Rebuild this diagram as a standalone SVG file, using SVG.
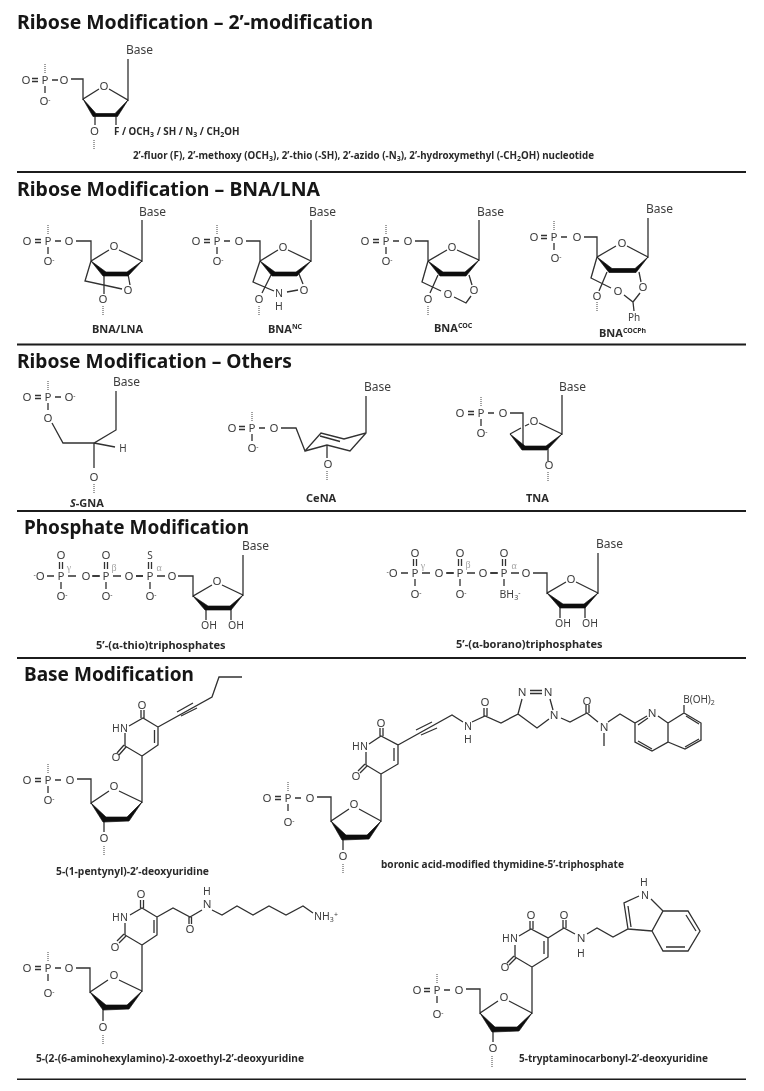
<svg xmlns="http://www.w3.org/2000/svg" xmlns:xlink="http://www.w3.org/1999/xlink" width="764" height="1091" viewBox="0 0 764 1091">
<style>
text{font-family:"Noto Sans","Open Sans","Liberation Sans",sans-serif}
.h{font-size:20px;font-weight:700;fill:#141414}
.c{font-size:10px;font-weight:700;fill:#2a2a2a}
.c9{font-size:9.800px}
.c11{font-size:11px}
.t{font-size:11.500px;fill:#3d3d3d;text-anchor:middle}
.a10{font-size:10px}
.a105{font-size:10.500px}
.b0{font-size:12px;fill:#3d3d3d}
.g{font-size:10px;fill:#a5a5a5;text-anchor:middle;font-family:"Liberation Serif",serif}
.s{font-size:7px}
.b{fill:none;stroke:#303030;stroke-width:1.3}
.d{fill:none;stroke:#555;stroke-width:1.1;stroke-dasharray:1 1}
.w{fill:#111;stroke:#111;stroke-width:.7}
.r{stroke:#1c1c1c;stroke-width:2.2}
</style>
<defs>
<filter id="soft" x="0" y="0" width="100%" height="100%"><feGaussianBlur stdDeviation="0.3"/></filter>
<g id="phos"><path class="b" d="M-13 -1.500H-7M-13 1.500H-7M7 0H13M0 6V13"/><path class="d" d="M0 -16V-7"/></g>
<g id="tri"><path class="b" d="M-1.500 -14V-7M1.500 -14V-7M-14 0H-7M7 0H15M0 6V13"/></g>
</defs>
<rect width="764" height="1091" fill="#fff"/>
<g filter="url(#soft)">

<g id="rules">
<line class="r" x1="17" y1="172" x2="746" y2="172"/>
<line class="r" x1="17" y1="344.500" x2="746" y2="344.500"/>
<line class="r" x1="17" y1="511" x2="746" y2="511"/>
<line class="r" x1="17" y1="658" x2="746" y2="658"/>
<line class="r" x1="17" y1="1079.500" x2="746" y2="1079.500"/>
</g>

<g id="titles">
<text class="h" x="17" y="29" textLength="356" lengthAdjust="spacingAndGlyphs">Ribose Modification – 2’-modification</text>
<text class="h" x="17" y="196" textLength="303" lengthAdjust="spacingAndGlyphs">Ribose Modification – BNA/LNA</text>
<text class="h" x="17" y="368" textLength="275" lengthAdjust="spacingAndGlyphs">Ribose Modification – Others</text>
<text class="h" x="24" y="534" textLength="225" lengthAdjust="spacingAndGlyphs">Phosphate Modification</text>
<text class="h" x="24" y="681" textLength="170" lengthAdjust="spacingAndGlyphs">Base Modification</text>
</g>

<g id="mod2">
<use xlink:href="#phos" href="#phos" x="45" y="80"/>
<text class="t" x="26" y="84">O</text><text class="t" x="45" y="84">P</text><text class="t" x="64" y="84">O</text><text class="t" x="45" y="105">O<tspan class="s" dy="-3">-</tspan></text>
<path class="b" d="M71 79H83V99L99 89M109 89L128 100V59M95 115V125M116 115V125"/>
<polygon class="w" points="83,99 93,116.500 117.500,116.500 128,100 115,113.500 96,113.500"/>
<text class="t" x="104" y="90">O</text><text class="t" x="94.500" y="135">O</text>
<path class="d" d="M94 140V149"/>
<text class="b0" x="126" y="54">Base</text>
<text class="c c9" x="114" y="135">F / OCH<tspan class="s" dy="2">3</tspan><tspan dy="-2"> / SH / N</tspan><tspan class="s" dy="2">3</tspan><tspan dy="-2"> / CH</tspan><tspan class="s" dy="2">2</tspan><tspan dy="-2">OH</tspan></text>
<text class="c c9" x="133" y="159">2’-fluor (F), 2’-methoxy (OCH<tspan class="s" dy="2">3</tspan><tspan dy="-2">), 2’-thio (-SH), 2’-azido (-N</tspan><tspan class="s" dy="2">3</tspan><tspan dy="-2">), 2’-hydroxymethyl (-CH</tspan><tspan class="s" dy="2">2</tspan><tspan dy="-2">OH) nucleotide</tspan></text>
</g>

<g id="bna-lna">
<use xlink:href="#phos" href="#phos" x="48" y="241"/>
<text class="t" x="27" y="245">O</text><text class="t" x="48" y="245">P</text><text class="t" x="69" y="245">O</text><text class="t" x="49" y="265">O<tspan class="s" dy="-3">-</tspan></text>
<path class="b" d="M76 241H91V261L109 250M119 250L142 261V220M91 261L85 281L122 289M128 274L130 285M104 273V294"/>
<polygon class="w" points="91,261 103,276 128,276 142,261 127,272 106,272"/>
<text class="t" x="114" y="250">O</text><text class="t" x="128" y="294">O</text><text class="t" x="103" y="303">O</text>
<path class="d" d="M103 306V315"/>
<text class="b0" x="139" y="216">Base</text>
<text class="c c11" x="92" y="333">BNA/LNA</text>
</g>

<g id="bna-nc">
<use xlink:href="#phos" href="#phos" x="217" y="241"/>
<text class="t" x="196" y="245">O</text><text class="t" x="217" y="245">P</text><text class="t" x="239" y="245">O</text><text class="t" x="218" y="265">O<tspan class="s" dy="-3">-</tspan></text>
<path class="b" d="M246 241H260V261L278 250M288 250L311 261V220M260 261L253 282L274 291M287 292L298 290M299 274L303 284M271 275L262 293"/>
<polygon class="w" points="260,261 272,276 297,276 311,261 296,272 275,272"/>
<text class="t" x="283" y="251">O</text><text class="t" x="304" y="294">O</text><text class="t a105" x="279" y="297">N</text><text class="t a105" x="279" y="310">H</text><text class="t" x="259" y="303">O</text>
<path class="d" d="M259 306V315"/>
<text class="b0" x="309" y="216">Base</text>
<text class="c c11" x="268" y="333">BNA<tspan class="s" dy="-4">NC</tspan></text>
</g>

<g id="bna-coc">
<use xlink:href="#phos" href="#phos" x="386" y="241"/>
<text class="t" x="365" y="245">O</text><text class="t" x="386" y="245">P</text><text class="t" x="408" y="245">O</text><text class="t" x="387" y="265">O<tspan class="s" dy="-3">-</tspan></text>
<path class="b" d="M415 241H428V261L447 250M457 250L479 260V220M428 261L422 282L441 291M454 297L466 303L471 296M469 275L472 285M438 275L430 293"/>
<polygon class="w" points="428,261 440,276 466,276 479,260 465,272 443,272"/>
<text class="t" x="452" y="251">O</text><text class="t" x="474" y="294">O</text><text class="t" x="448" y="298">O</text><text class="t" x="428" y="303">O</text>
<path class="d" d="M428 306V315"/>
<text class="b0" x="477" y="216">Base</text>
<text class="c c11" x="434" y="332">BNA<tspan class="s" dy="-4">COC</tspan></text>
</g>

<g id="bna-cocph">
<use xlink:href="#phos" href="#phos" x="554" y="237"/>
<text class="t" x="534" y="241">O</text><text class="t" x="554" y="241">P</text><text class="t" x="577" y="241">O</text><text class="t" x="556" y="262">O<tspan class="s" dy="-3">-</tspan></text>
<path class="b" d="M584 237H597V257L616 246M627 246L648 257V218M597 257L591 278L611 288M624 295L633 302L640 293M639 272L641 282M607 272L599 291M633 302L634 311"/>
<polygon class="w" points="597,257 609,272.500 636,272.500 648,257 635,268.500 612,268.500"/>
<text class="t" x="622" y="247">O</text><text class="t" x="643" y="291">O</text><text class="t" x="618" y="295">O</text><text class="t" x="597" y="300">O</text>
<path class="d" d="M597 302V311"/>
<text class="t a10" x="634" y="321">Ph</text>
<text class="b0" x="646" y="213">Base</text>
<text class="c c11" x="599" y="337">BNA<tspan class="s" dy="-4">COCPh</tspan></text>
</g>

<g id="s-gna">
<use xlink:href="#phos" href="#phos" x="48" y="397"/>
<text class="t" x="27" y="401">O</text><text class="t" x="48" y="401">P</text><text class="t" x="70" y="401">O<tspan class="s" dy="-3">-</tspan></text><text class="t" x="48" y="422">O</text>
<path class="b" d="M52 423L63 443H94L116 430V391M94 443L115 447M94 443V468"/>
<text class="t a10" x="123" y="452">H</text><text class="t" x="94" y="481">O</text>
<path class="d" d="M94 484V493"/>
<text class="b0" x="113" y="386">Base</text>
<text class="c c11" x="70" y="507"><tspan font-style="italic">S</tspan>-GNA</text>
</g>

<g id="cena">
<use xlink:href="#phos" href="#phos" x="252" y="428"/>
<text class="t" x="232" y="432">O</text><text class="t" x="252" y="432">P</text><text class="t" x="274" y="432">O</text><text class="t" x="253" y="452">O<tspan class="s" dy="-3">-</tspan></text>
<path class="b" d="M281 428H296L305 451L321 433L344 439L366 433V396M320 436L340 441.500M305 451L327 445L350 451L366 433M327 445V458"/>
<text class="t" x="328" y="468">O</text>
<path class="d" d="M327 471V480"/>
<text class="b0" x="364" y="391">Base</text>
<text class="c c11" x="306" y="502">CeNA</text>
</g>

<g id="tna">
<use xlink:href="#phos" href="#phos" x="481" y="413"/>
<text class="t" x="460" y="417">O</text><text class="t" x="481" y="417">P</text><text class="t" x="503" y="417">O</text><text class="t" x="482" y="437">O<tspan class="s" dy="-3">-</tspan></text>
<path class="b" d="M510 413H523V446M510 434L521 428M525 426L529 424M539 423L562 434V395M548 449V461"/>
<polygon class="w" points="510,434 522,450 547,450 562,434 546,446 525,446"/>
<text class="t" x="534" y="425">O</text><text class="t" x="549" y="469">O</text>
<path class="d" d="M548 472V481"/>
<text class="b0" x="559" y="391">Base</text>
<text class="c c11" x="526" y="502">TNA</text>
</g>

<g id="thio">
<use xlink:href="#tri" href="#tri" x="61" y="576"/><use xlink:href="#tri" href="#tri" x="106" y="576"/><use xlink:href="#tri" href="#tri" x="150" y="576"/>
<text class="t" x="39" y="580"><tspan class="s" dy="-3">-</tspan><tspan dy="3">O</tspan></text><text class="t" x="61" y="580">P</text><text class="t" x="61" y="559">O</text><text class="t" x="62" y="600">O<tspan class="s" dy="-3">-</tspan></text>
<text class="t" x="86" y="580">O</text><path class="b" d="M93 576H100M136 576H143M178 576H193V596L212 585M222 585L243 595V555M206 609V620M231 609V620"/>
<text class="t" x="106" y="580">P</text><text class="t" x="106" y="559">O</text><text class="t" x="107" y="600">O<tspan class="s" dy="-3">-</tspan></text>
<text class="t" x="129" y="580">O</text><text class="t" x="150" y="580">P</text><text class="t a10" x="150" y="559">S</text><text class="t" x="151" y="600">O<tspan class="s" dy="-3">-</tspan></text>
<text class="t" x="172" y="580">O</text>
<text class="g" x="69" y="571">γ</text><text class="g" x="114" y="571">β</text><text class="g" x="159" y="571">α</text>
<polygon class="w" points="193,596 205,610 231,610 243,595 230,606 208,606"/>
<text class="t" x="217" y="585">O</text><text class="t a105" x="209" y="629">OH</text><text class="t a105" x="236" y="629">OH</text>
<text class="b0" x="242" y="550">Base</text>
<text class="c c11" x="96" y="649">5’-(α-thio)triphosphates</text>
</g>

<g id="borano">
<use xlink:href="#tri" href="#tri" x="415" y="573"/><use xlink:href="#tri" href="#tri" x="460" y="573"/><use xlink:href="#tri" href="#tri" x="504" y="573"/>
<text class="t" x="392" y="577"><tspan class="s" dy="-3">-</tspan><tspan dy="3">O</tspan></text><text class="t" x="415" y="577">P</text><text class="t" x="415" y="557">O</text><text class="t" x="416" y="598">O<tspan class="s" dy="-3">-</tspan></text>
<text class="t" x="439" y="577">O</text><path class="b" d="M447 573H454M491 573H498M533 573H547V593L566 582M576 582L598 593V553M560 607V618M585 607V618"/>
<text class="t" x="460" y="577">P</text><text class="t" x="460" y="557">O</text><text class="t" x="461" y="598">O<tspan class="s" dy="-3">-</tspan></text>
<text class="t" x="483" y="577">O</text><text class="t" x="504" y="577">P</text><text class="t" x="504" y="557">O</text>
<text class="t" x="526" y="577">O</text>
<text class="t a105" x="510" y="598">BH<tspan class="s" dy="2">3</tspan><tspan class="s" dy="-5">-</tspan></text>
<text class="g" x="423" y="569">γ</text><text class="g" x="468" y="568">β</text><text class="g" x="514" y="569">α</text>
<polygon class="w" points="547,593 560,608 585,608 598,593 584,604 563,604"/>
<text class="t" x="571" y="583">O</text><text class="t a105" x="563" y="627">OH</text><text class="t a105" x="590" y="627">OH</text>
<text class="b0" x="596" y="548">Base</text>
<text class="c c11" x="456" y="648">5’-(α-borano)triphosphates</text>
</g>

<g id="pentynyl">
<use xlink:href="#phos" href="#phos" x="48" y="780"/>
<text class="t" x="27" y="784">O</text><text class="t" x="48" y="784">P</text><text class="t" x="70" y="784">O</text><text class="t" x="49" y="804">O<tspan class="s" dy="-3">-</tspan></text>
<path class="b" d="M77 779H91V803L109 791M119 791L142 802V756L125 746V733M129 726L143 718L158 727V745L142 756M154.500 730V743M158 727L212 697L219 677H242M177 712L193 703M181 716L197 708M141 718V710M144 718V710M126 747L119 755M124 745L117 753M104 821V832"/>
<polygon class="w" points="91,803 103,822 129,821 142,802 127,817 106,817"/>
<text class="t" x="114" y="790">O</text><text class="t" x="142" y="709">O</text><text class="t" x="116" y="761">O</text><text class="t a105" x="120" y="732">HN</text><text class="t" x="104" y="842">O</text>
<path class="d" d="M104 846V855"/>
<text class="c" x="56" y="875" textLength="153" lengthAdjust="spacingAndGlyphs">5-(1-pentynyl)-2’-deoxyuridine</text>
</g>

<g id="boronic">
<use xlink:href="#phos" href="#phos" x="288" y="798"/>
<text class="t" x="267" y="802">O</text><text class="t" x="288" y="802">P</text><text class="t" x="310" y="802">O</text><text class="t" x="289" y="826">O<tspan class="s" dy="-3">-</tspan></text>
<path class="b" d="M317 797H331V821L349 809M359 809L381 821V774L366 765V752M369 744L381 736L398 745V764L381 774M394 748V761M398 745L452 715L463 722M472 722L485 716L501 723L518 714L522 699M518 714L537 728L549 719M530 690.500H542M530 693.500H542M550 699L553 710M561 718L570 722L587 713L598 722M608 722L620 714L635 723L647 716M604 733V746M635 723V742L652 751L668 742V723L658 716M638 725L648 718M638 741L652 749M668 723L684 713L701 723V740L685 749L668 742M686 716L699 724M699 739L685 747M684 713V705M416 730L432 722M421 735L437 728M380 736V728M383 736V728M367 766L360 773M365 764L358 771M484 716V708M487 716V708M586 713V705M589 713V705M343 840V850"/>
<polygon class="w" points="331,821 342,840 369,839 381,821 367,835 346,835"/>
<text class="t" x="354" y="808">O</text><text class="t" x="381" y="727">O</text><text class="t" x="356" y="780">O</text><text class="t a105" x="360" y="750">HN</text>
<text class="t a105" x="468" y="730">N</text><text class="t a105" x="468" y="743">H</text><text class="t" x="485" y="706">O</text>
<text class="t" x="522" y="696">N</text><text class="t" x="548" y="696">N</text><text class="t" x="554" y="719">N</text>
<text class="t" x="587" y="705">O</text><text class="t" x="604" y="731">N</text><text class="t" x="652" y="717">N</text>
<text class="t a10" x="699" y="703">B(OH)<tspan class="s" dy="2">2</tspan></text>
<text class="t" x="343" y="860">O</text>
<path class="d" d="M343 864V873"/>
<text class="c" x="381" y="868" textLength="243" lengthAdjust="spacingAndGlyphs">boronic acid-modified thymidine-5’-triphosphate</text>
</g>

<g id="aminohexyl">
<use xlink:href="#phos" href="#phos" x="48" y="968"/>
<text class="t" x="27" y="972">O</text><text class="t" x="48" y="972">P</text><text class="t" x="69" y="972">O</text><text class="t" x="49" y="997">O<tspan class="s" dy="-3">-</tspan></text>
<path class="b" d="M76 968H90V992L108 980M119 980L142 991V945L125 935V923M130 915L142 908L157 917V935L142 945M154 920V933M157 917L173 908L190 917L202 910M212 910L222 915L237 906L253 915L269 906L286 915L303 906L313 913M189 917V924M191.500 917V924M140.500 908V900M143.500 908V900M126 936L119 943M124 934L117 941M103 1009V1021"/>
<polygon class="w" points="90,992 103,1010 129,1009 142,991 127,1005 106,1005"/>
<text class="t" x="114" y="979">O</text><text class="t" x="141" y="898">O</text><text class="t" x="115" y="951">O</text><text class="t a105" x="120" y="921">HN</text>
<text class="t" x="190" y="933">O</text><text class="t" x="207" y="908">N</text><text class="t a105" x="207" y="895">H</text>
<text class="t" x="103" y="1031">O</text>
<path class="d" d="M103 1035V1044"/>
<text class="t a105" x="326" y="920">NH<tspan class="s" dy="2">3</tspan><tspan class="s" dy="-5">+</tspan></text>
<text class="c" x="36" y="1062" textLength="268" lengthAdjust="spacingAndGlyphs">5-(2-(6-aminohexylamino)-2-oxoethyl-2’-deoxyuridine</text>
</g>

<g id="tryptamino">
<use xlink:href="#phos" href="#phos" x="437" y="990"/>
<text class="t" x="417" y="994">O</text><text class="t" x="437" y="994">P</text><text class="t" x="459" y="994">O</text><text class="t" x="438" y="1018">O<tspan class="s" dy="-3">-</tspan></text>
<path class="b" d="M466 989H480V1013L498 1001M509 1001L532 1013V967L515 957V945M519 936L531 929L548 938V957L532 967M544 941V954M548 938L564 928L575 934M587 934L597 928L613 937L628 929L652 931L663 911L688 911L700 931L688 951H663L652 931M628 929L624 903L639 896M651 899L663 911M631 927L628 906M666 947H685M696 931L686 915M530 929V921M533 929V921M563 928V920M566 928V920M516 958L509 965M514 956L507 963M493 1032V1042"/>
<polygon class="w" points="480,1013 492,1032 519,1031 532,1013 517,1027 495,1027"/>
<text class="t" x="504" y="1001">O</text><text class="t" x="531" y="919">O</text><text class="t" x="505" y="971">O</text><text class="t a105" x="510" y="942">HN</text>
<text class="t" x="564" y="919">O</text><text class="t" x="581" y="942">N</text><text class="t a105" x="581" y="957">H</text>
<text class="t a105" x="645" y="899">N</text><text class="t a105" x="644" y="886">H</text>
<text class="t" x="493" y="1052">O</text>
<path class="d" d="M492 1056V1067"/>
<text class="c" x="519" y="1062" textLength="189" lengthAdjust="spacingAndGlyphs">5-tryptaminocarbonyl-2’-deoxyuridine</text>
</g>
</g>
</svg>
